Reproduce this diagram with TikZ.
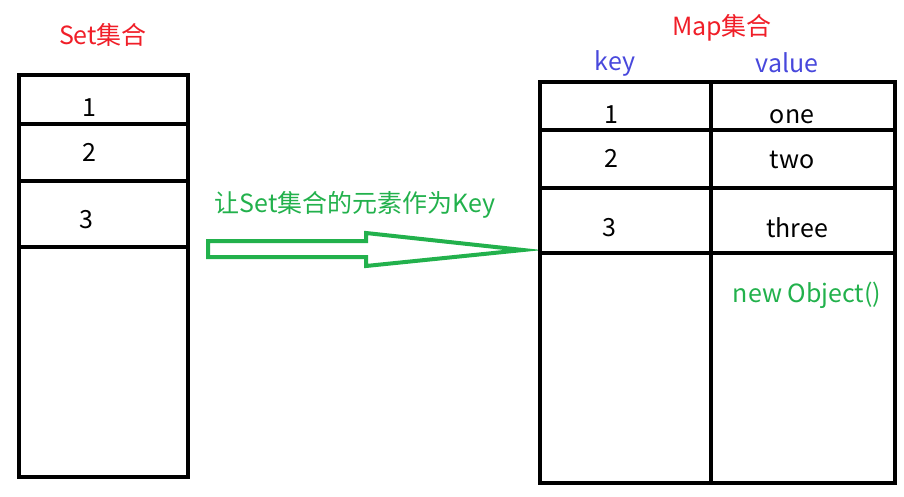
\documentclass[tikz,border=0pt]{standalone}
\usepackage{fontspec}
\setmainfont{Noto Sans CJK SC}
\definecolor{tred}{RGB}{240,30,40}
\definecolor{tgreen}{RGB}{34,177,76}
\definecolor{tblue}{RGB}{72,72,220}
\begin{document}
\begin{tikzpicture}[x=1pt,y=-1pt,
  lbl/.style={inner sep=0pt,font=\fontsize{25}{28}\selectfont},
  frame/.style={draw=black,line width=4pt},
  bigarrow/.style={draw=tgreen,line width=4pt,line join=miter}]
\useasboundingbox (0,0) rectangle (904,497);
% Set
\node[lbl,text=tred] (settitle) at (103,35) {Set集合};
\draw[frame] (19,75) rectangle (188,477);
\draw[frame] (19,124) -- (190,124);
\draw[frame] (19,181) -- (190,181);
\draw[frame] (19,247) -- (190,247);
\node[lbl] (s1) at (89,108) {1};
\node[lbl] (s2) at (89,152) {2};
\node[lbl] (s3) at (86,220) {3};
% arrow
\node[lbl,text=tgreen] (alabel) at (355,205) {让Set集合的元素作为Key};
\draw[bigarrow] (208,241) -- (366,241) -- (366,233) -- (523,250) -- (366,266) -- (366,257) -- (208,257) -- cycle;
% Map
\node[lbl,text=tred] (maptitle) at (722,28) {Map集合};
\node[lbl,text=tblue] (keyh) at (615,63) {key};
\node[lbl,text=tblue] (valh) at (787,63) {value};
\draw[frame] (540,82) rectangle (895,483);
\draw[frame] (711,82) -- (711,483);
\draw[frame] (540,130) -- (895,130);
\draw[frame] (540,188) -- (895,188);
\draw[frame] (540,253) -- (895,253);
\node[lbl] (k1) at (611,115) {1};
\node[lbl] (v1) at (792,117) {one};
\node[lbl] (k2) at (611,158) {2};
\node[lbl] (v2) at (792,160) {two};
\node[lbl] (k3) at (609,228) {3};
\node[lbl] (v3) at (797,228) {three};
\node[lbl,text=tgreen] (obj) at (807,295) {new Object()};
\end{tikzpicture}
\end{document}
